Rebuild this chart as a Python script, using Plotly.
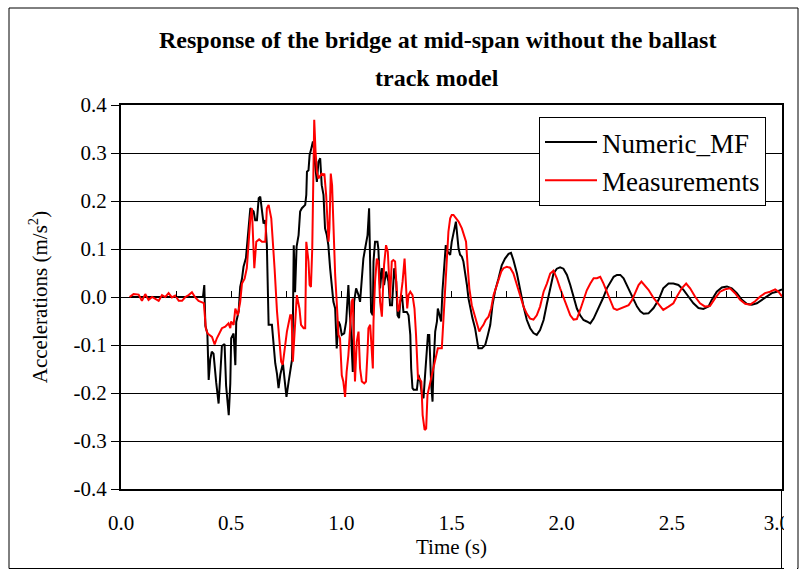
import plotly.graph_objects as go

# ---------------- data ----------------
t_numeric = [0.040, 0.200, 0.372, 0.378, 0.383, 0.392, 0.398, 0.405, 0.412, 0.420, 0.424, 0.432, 0.443, 0.450,
             0.458, 0.470, 0.477, 0.489, 0.496, 0.500, 0.511, 0.519, 0.523, 0.534, 0.541, 0.549, 0.556, 0.567,
             0.571, 0.582, 0.587, 0.602, 0.609, 0.617, 0.625, 0.632, 0.640, 0.647, 0.655, 0.662, 0.667, 0.670,
             0.685, 0.692, 0.700, 0.708, 0.715, 0.723, 0.735, 0.742, 0.751, 0.761, 0.769, 0.776, 0.780, 0.784,
             0.790, 0.797, 0.806, 0.813, 0.821, 0.836, 0.841, 0.844, 0.851, 0.856, 0.862, 0.871, 0.877, 0.881,
             0.889, 0.896, 0.904, 0.911, 0.919, 0.926, 0.934, 0.941, 0.949, 0.957, 0.964, 0.972, 0.979, 0.987,
             0.994, 1.002, 1.013, 1.022, 1.032, 1.037, 1.043, 1.052, 1.058, 1.067, 1.078, 1.085, 1.093, 1.100,
             1.108, 1.119, 1.126, 1.131, 1.135, 1.143, 1.146, 1.153, 1.164, 1.168, 1.176, 1.184, 1.194, 1.203,
             1.214, 1.221, 1.230, 1.240, 1.249, 1.255, 1.262, 1.267, 1.275, 1.282, 1.297, 1.305, 1.313, 1.317,
             1.323, 1.328, 1.343, 1.350, 1.358, 1.366, 1.373, 1.378, 1.384, 1.388, 1.393, 1.399, 1.403, 1.408,
             1.414, 1.418, 1.426, 1.434, 1.438, 1.444, 1.453, 1.459, 1.467, 1.474, 1.483, 1.494, 1.501, 1.513,
             1.520, 1.526, 1.532, 1.539, 1.547, 1.554, 1.562, 1.570, 1.577, 1.585, 1.595, 1.607, 1.615, 1.622,
             1.638, 1.653, 1.665, 1.676, 1.686, 1.698, 1.713, 1.728, 1.743, 1.759, 1.770, 1.781, 1.797, 1.812,
             1.827, 1.842, 1.857, 1.872, 1.887, 1.902, 1.918, 1.933, 1.948, 1.963, 1.978, 1.993, 2.008, 2.024,
             2.039, 2.054, 2.069, 2.084, 2.099, 2.114, 2.130, 2.145, 2.160, 2.175, 2.190, 2.205, 2.221, 2.236,
             2.251, 2.266, 2.281, 2.296, 2.311, 2.327, 2.342, 2.357, 2.372, 2.394, 2.417, 2.440, 2.461, 2.485,
             2.507, 2.530, 2.553, 2.575, 2.598, 2.621, 2.643, 2.666, 2.681, 2.704, 2.727, 2.750, 2.772, 2.795,
             2.818, 2.840, 2.863, 2.886, 2.908, 2.931, 2.954, 2.976, 3.000]
a_numeric = [0.000, 0.000, 0.000, 0.025, -0.060, -0.076, -0.173, -0.130, -0.114, -0.118, -0.140, -0.178, -0.222, -0.160,
             -0.102, -0.098, -0.185, -0.246, -0.180, -0.086, -0.076, -0.142, -0.052, -0.030, 0.021, 0.038, 0.063, 0.081,
             0.101, 0.157, 0.185, 0.178, 0.160, 0.160, 0.206, 0.209, 0.178, 0.153, 0.160, 0.108, 0.004, -0.058,
             -0.058, -0.093, -0.138, -0.160, -0.190, -0.162, -0.138, -0.170, -0.208, -0.176, -0.152, -0.131, -0.060, 0.108,
             0.010, 0.105, 0.129, 0.178, 0.185, 0.192, 0.213, 0.261, 0.264, 0.296, 0.306, 0.324, 0.306, 0.275,
             0.240, 0.281, 0.289, 0.233, 0.213, 0.143, 0.129, 0.108, 0.060, 0.018, -0.010, -0.024, -0.107, -0.051,
             -0.058, -0.079, -0.076, -0.051, 0.025, -0.024, -0.065, -0.156, -0.010, 0.018, 0.004, -0.010, 0.038, 0.080,
             0.101, 0.129, 0.185, 0.046, -0.031, -0.038, 0.074, 0.115, 0.115, 0.101, 0.018, 0.060, 0.025, 0.053,
             0.032, -0.017, -0.017, 0.060, 0.032, -0.038, -0.044, -0.010, 0.004, -0.031, -0.031, -0.038, -0.079, -0.149,
             -0.190, -0.193, -0.193, -0.162, -0.176, -0.204, -0.211, -0.176, -0.128, -0.107, -0.079, -0.079, -0.135, -0.183,
             -0.218, -0.149, -0.072, -0.051, -0.024, -0.038, -0.051, 0.013, 0.060, 0.108, 0.094, 0.088, 0.115, 0.143,
             0.157, 0.129, 0.101, 0.088, 0.084, 0.074, 0.053, 0.025, -0.003, -0.024, -0.044, -0.065, -0.086, -0.107,
             -0.107, -0.100, -0.079, -0.058, -0.017, 0.013, 0.038, 0.066, 0.080, 0.090, 0.092, 0.077, 0.049, 0.011,
             -0.020, -0.048, -0.065, -0.075, -0.079, -0.069, -0.048, -0.014, 0.021, 0.049, 0.059, 0.062, 0.059, 0.046,
             0.025, 0.000, -0.024, -0.038, -0.048, -0.051, -0.055, -0.045, -0.031, -0.017, 0.000, 0.018, 0.032, 0.042,
             0.046, 0.046, 0.039, 0.025, 0.011, -0.007, -0.020, -0.030, -0.035, -0.034, -0.023, -0.006, 0.018, 0.028,
             0.028, 0.025, 0.015, 0.001, -0.013, -0.023, -0.025, -0.020, -0.006, 0.011, 0.020, 0.022, 0.018, 0.008,
             -0.006, -0.014, -0.016, -0.013, -0.006, 0.001, 0.008, 0.011, 0.016]

t_meas = [0.039, 0.057, 0.080, 0.095, 0.110, 0.125, 0.141, 0.156, 0.171, 0.186, 0.201, 0.216, 0.231, 0.246,
          0.262, 0.277, 0.292, 0.307, 0.322, 0.337, 0.352, 0.368, 0.376, 0.385, 0.393, 0.413, 0.425, 0.435,
          0.458, 0.473, 0.488, 0.496, 0.500, 0.511, 0.519, 0.530, 0.541, 0.549, 0.561, 0.571, 0.579, 0.587,
          0.594, 0.599, 0.605, 0.614, 0.627, 0.640, 0.655, 0.662, 0.670, 0.682, 0.688, 0.697, 0.708, 0.718,
          0.727, 0.734, 0.742, 0.753, 0.768, 0.774, 0.780, 0.786, 0.798, 0.810, 0.817, 0.829, 0.836, 0.841,
          0.847, 0.851, 0.856, 0.862, 0.868, 0.877, 0.883, 0.889, 0.896, 0.904, 0.911, 0.919, 0.923, 0.931,
          0.937, 0.942, 0.946, 0.952, 0.958, 0.964, 0.972, 0.979, 0.987, 0.994, 1.002, 1.009, 1.017, 1.024,
          1.032, 1.040, 1.047, 1.052, 1.058, 1.062, 1.070, 1.078, 1.085, 1.093, 1.104, 1.112, 1.119, 1.123,
          1.131, 1.138, 1.143, 1.146, 1.153, 1.161, 1.168, 1.176, 1.184, 1.188, 1.194, 1.203, 1.211, 1.217,
          1.221, 1.229, 1.236, 1.244, 1.249, 1.257, 1.263, 1.272, 1.278, 1.287, 1.293, 1.299, 1.305, 1.313,
          1.323, 1.332, 1.339, 1.343, 1.348, 1.354, 1.363, 1.369, 1.378, 1.385, 1.391, 1.401, 1.411, 1.422,
          1.429, 1.438, 1.456, 1.464, 1.471, 1.479, 1.486, 1.494, 1.501, 1.509, 1.516, 1.532, 1.547, 1.559,
          1.566, 1.574, 1.581, 1.592, 1.604, 1.615, 1.626, 1.634, 1.645, 1.655, 1.668, 1.680, 1.691, 1.706,
          1.726, 1.736, 1.751, 1.766, 1.781, 1.797, 1.812, 1.827, 1.842, 1.857, 1.872, 1.887, 1.902, 1.918,
          1.933, 1.948, 1.963, 1.978, 1.993, 2.008, 2.024, 2.039, 2.054, 2.069, 2.084, 2.099, 2.114, 2.130,
          2.145, 2.160, 2.175, 2.190, 2.205, 2.221, 2.236, 2.251, 2.266, 2.289, 2.304, 2.319, 2.334, 2.349,
          2.362, 2.380, 2.394, 2.417, 2.440, 2.461, 2.485, 2.507, 2.523, 2.545, 2.565, 2.583, 2.605, 2.628,
          2.651, 2.673, 2.696, 2.719, 2.742, 2.764, 2.787, 2.810, 2.833, 2.855, 2.878, 2.901, 2.923, 2.946,
          2.969, 2.984, 3.000]
a_meas = [0.000, 0.006, 0.005, -0.008, 0.006, -0.006, 0.000, -0.004, -0.008, 0.004, 0.000, 0.008, -0.001, 0.003,
          -0.008, -0.008, 0.000, 0.004, 0.010, -0.001, -0.008, -0.011, -0.013, -0.065, -0.076, -0.083, -0.099, -0.086,
          -0.065, -0.062, -0.055, -0.065, -0.051, -0.058, -0.024, -0.038, -0.010, 0.028, 0.038, 0.060, 0.122, 0.164,
          0.185, 0.122, 0.060, 0.115, 0.120, 0.115, 0.115, 0.185, 0.192, 0.164, 0.129, 0.060, -0.030, -0.079,
          -0.135, -0.141, -0.107, -0.072, -0.038, -0.038, -0.135, -0.079, 0.004, -0.024, -0.058, -0.065, -0.065, 0.115,
          0.094, 0.074, 0.025, 0.021, 0.101, 0.369, 0.303, 0.261, 0.247, 0.254, 0.257, 0.254, 0.257, 0.213,
          0.170, 0.115, 0.143, 0.257, 0.233, 0.129, 0.046, -0.010, -0.079, -0.086, -0.163, -0.176, -0.208, -0.156,
          -0.121, -0.065, -0.010, -0.003, -0.107, -0.176, -0.093, -0.072, -0.149, -0.176, -0.180, -0.176, -0.114, -0.065,
          -0.058, -0.128, -0.149, -0.051, 0.032, 0.080, 0.074, -0.010, -0.041, 0.004, 0.067, 0.108, 0.094, 0.038,
          -0.003, 0.074, 0.077, 0.074, 0.032, -0.030, -0.024, 0.004, 0.032, 0.080, 0.032, -0.024, 0.004, 0.011,
          0.004, -0.024, -0.079, -0.121, -0.170, -0.170, -0.176, -0.246, -0.277, -0.274, -0.204, -0.183, -0.162, -0.141,
          -0.128, -0.107, -0.107, -0.038, 0.032, 0.094, 0.136, 0.164, 0.171, 0.171, 0.167, 0.157, 0.143, 0.122,
          0.115, 0.060, 0.018, -0.017, -0.038, -0.058, -0.072, -0.065, -0.058, -0.048, -0.041, -0.024, 0.004, 0.025,
          0.053, 0.060, 0.063, 0.061, 0.049, 0.025, 0.000, -0.020, -0.035, -0.045, -0.047, -0.038, -0.020, 0.011,
          0.028, 0.049, 0.055, 0.039, 0.018, 0.000, -0.020, -0.038, -0.047, -0.046, -0.027, -0.007, 0.014, 0.028,
          0.039, 0.039, 0.042, 0.028, 0.011, -0.010, -0.024, -0.027, -0.024, -0.019, -0.017, -0.007, 0.011, 0.025,
          0.032, 0.022, 0.015, -0.002, -0.016, -0.027, -0.020, -0.013, 0.001, 0.018, 0.028, 0.018, 0.001, -0.013,
          -0.020, -0.019, -0.003, 0.011, 0.016, 0.018, 0.008, -0.006, -0.014, -0.016, -0.009, 0.001, 0.008, 0.011,
          0.016, 0.011, 0.001]

x_tick_vals = [0.0, 0.5, 1.0, 1.5, 2.0, 2.5, 3.0]
x_tick_text = ["0.0", "0.5", "1.0", "1.5", "2.0", "2.5", "3.0\u2002"]
y_tick_vals = [-0.4, -0.3, -0.2, -0.1, 0.0, 0.1, 0.2, 0.3, 0.4]
y_tick_text = ["-0.4", "-0.3", "-0.2", "-0.1", "0.0", "0.1", "0.2", "0.3", "0.4"]
title_lines = ["Response of the bridge at mid-span without the ballast", "track model"]

FONT = "Liberation Serif"

fig = go.Figure()
fig.add_trace(go.Scatter(x=t_numeric, y=a_numeric, mode="lines", name="Numeric_MF",
                         line=dict(color="black", width=2), legendgroup="a",
                         xaxis="x", yaxis="y"))
fig.add_trace(go.Scatter(x=t_meas, y=a_meas, mode="lines", name="Measurements",
                         line=dict(color="#ff0000", width=2), legendgroup="b",
                         xaxis="x2", yaxis="y"))

L, R, T, B = 121, 17, 105, 80
W, H = 799, 569
pw, ph = W - L - R, H - T - B


def px(xp):
    return (xp - L) / pw


def py(yp):
    return (H - B - yp) / ph


title_ann = [dict(text="<b>%s</b>" % s, xref="paper", yref="paper", x=px(437), y=py(yc),
                  xanchor="center", yanchor="middle", showarrow=False,
                  font=dict(family=FONT, size=24, color="black"))
             for s, yc in zip(title_lines, [40, 78])]

fig.update_layout(
    width=W, height=H, autosize=False,
    margin=dict(l=L, r=R, t=T, b=B, pad=0),
    paper_bgcolor="white", plot_bgcolor="white",
    font=dict(family=FONT, color="black", size=21),
    annotations=title_ann,
    xaxis=dict(range=[0, 3], tickvals=x_tick_vals, ticktext=x_tick_text,
               showgrid=False, zeroline=False, showline=True, linecolor="black",
               linewidth=2, mirror=True, ticks="", ticklabelstandoff=14,
               ticklabeloverflow="allow",
               tickfont=dict(family=FONT, size=21, color="black"),
               title=dict(text="Time (s)", font=dict(family=FONT, size=21, color="black"), standoff=4),
               automargin=False),
    xaxis2=dict(range=[0, 3], overlaying="x", anchor="free", position=0.5,
                tick0=0, dtick=0.25, ticks="inside", ticklen=6, tickwidth=1, tickcolor="black",
                showticklabels=False, showgrid=False, zeroline=False, showline=False),
    yaxis=dict(range=[-0.4, 0.4], tickvals=y_tick_vals, ticktext=y_tick_text,
               showgrid=True, gridcolor="black", gridwidth=1,
               zeroline=True, zerolinecolor="black", zerolinewidth=1,
               showline=True, linecolor="black", linewidth=2, mirror=True,
               ticks="outside", ticklen=8, tickwidth=1, tickcolor="black",
               tickfont=dict(family=FONT, size=21, color="black"),
               title=dict(text="Accelerations (m/s<sup>2</sup>)",
                          font=dict(family=FONT, size=21, color="black"), standoff=20),
               automargin=False),
    legend=dict(x=px(539), y=py(117), xanchor="left", yanchor="top",
                bgcolor="white", bordercolor="black", borderwidth=1,
                font=dict(family=FONT, size=27, color="black"),
                itemwidth=52, tracegroupgap=0, traceorder="grouped"),
    shapes=[
        dict(type="rect", xref="paper", yref="paper",
             x0=px(9), x1=px(798), y0=py(568.5), y1=py(8),
             line=dict(color="black", width=1), fillcolor="rgba(0,0,0,0)", layer="above"),
        dict(type="rect", xref="paper", yref="paper",
             x0=px(784), x1=px(797), y0=py(569), y1=py(492),
             line=dict(width=0), fillcolor="white", layer="above"),
        dict(type="line", xref="x", yref="paper", x0=3, x1=3, y0=py(569), y1=0,
             line=dict(color="black", width=2), layer="above"),
    ],
    showlegend=True,
)

fig.write_html("out.html")
